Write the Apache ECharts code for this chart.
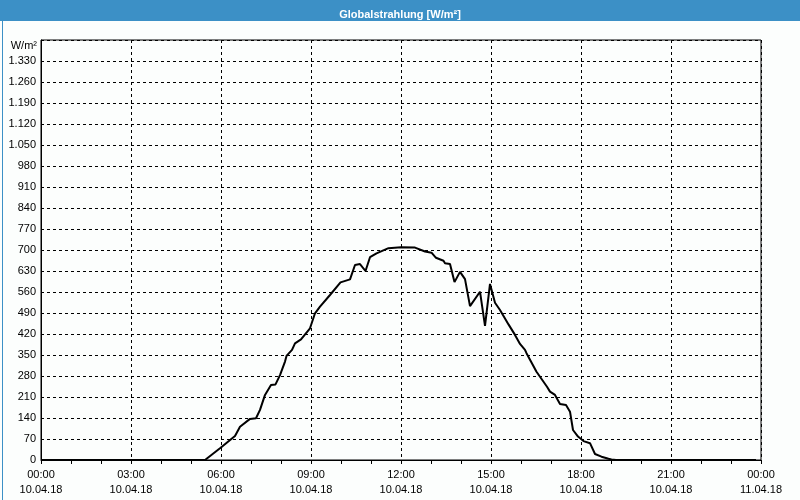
<!DOCTYPE html>
<html><head><meta charset="utf-8">
<script src="https://cdn.jsdelivr.net/npm/echarts@6/dist/echarts.min.js"></script>
<style>html,body{margin:0;padding:0;background:#fcfefd}#c{width:800px;height:500px}</style>
</head><body><div id="c"></div>
<script>
const titleText = 'Globalstrahlung [W/m²]';
const unitLabel = 'W/m²';
const xTickLabels = ['00:00\n10.04.18','03:00\n10.04.18','06:00\n10.04.18','09:00\n10.04.18','12:00\n10.04.18','15:00\n10.04.18','18:00\n10.04.18','21:00\n10.04.18','00:00\n11.04.18'];
const times = ['00:00','05:28','05:58','06:28','06:38','06:58','07:10','07:18','07:28','07:40','07:49','07:58','08:08','08:11','08:22','08:28','08:40','08:58','09:08','09:18','09:38','09:59','10:18','10:28','10:38','10:49','10:58','11:11','11:35','12:00','12:28','12:48','13:01','13:10','13:25','13:28','13:38','13:47','13:58','14:08','14:18','14:38','14:48','14:58','15:08','15:18','15:35','15:48','15:58','16:08','16:11','16:31','16:52','16:58','17:08','17:11','17:18','17:30','17:38','17:44','17:54','18:05','18:18','18:28','18:41','18:55','19:01','19:10','23:50'];
const values = [0,0,39,80,111,137,139,167,217,250,252,283,328,347,367,389,402,439,489,511,550,592,602,650,653,630,676,689,706,709,708,695,691,674,664,656,653,593,627,603,513,561,447,587,524,500,452,417,387,367,356,294,244,228,217,211,187,183,161,100,78,63,56,20,11,4,2,0,0];
const yMin = 0, yMax = 1400, yStep = 70;

function toHours(t){const p=t.split(':');return +p[0]+(+p[1])/60;}
const seriesData = times.map((t,i)=>[toHours(t), values[i]]);
function fmtY(v){ if(v>=yMax) return ''; if(v>=1000){return Math.floor(v/1000)+'.'+String(v%1000).padStart(3,'0');} return String(v); }

const font = "'Liberation Sans', Arial, sans-serif";
const chart = echarts.init(document.getElementById('c'), null, {renderer:'canvas'});
chart.setOption({
  animation:false,
  backgroundColor:'#fcfefd',
  graphic:[
    {type:'rect', left:0, top:0, shape:{width:800,height:21}, style:{fill:'#3c90c6'}, z:0},
    {type:'rect', left:0, top:0, shape:{width:799,height:499}, style:{fill:'none', stroke:'#3c90c6', lineWidth:1}, z:0},
    {type:'text', right:763, top:40, style:{text:unitLabel, fill:'#000', font:'11px '+font, textAlign:'right'}, z:5}
  ],
  title:{text:titleText, left:'center', top:4, textStyle:{color:'#fff', fontSize:11, fontWeight:'bold', fontFamily:font}},
  grid:{left:41, right:39, top:40, bottom:40, show:true, borderColor:'#000', borderWidth:1, backgroundColor:'transparent'},
  xAxis:{type:'value', min:0, max:24, interval:3,
    axisLine:{lineStyle:{color:'#000', width:1}},
    axisTick:{show:true, length:4, lineStyle:{color:'#000'}},
    minorTick:{show:true, splitNumber:3, length:4, lineStyle:{color:'#000'}},
    splitLine:{show:true, lineStyle:{color:'#000', type:[3,3], width:1}},
    axisLabel:{margin:7, color:'#000', fontSize:11, fontFamily:font, lineHeight:15, formatter:(v)=>xTickLabels[Math.round(v/3)], showMaxLabel:true, showMinLabel:true}
  },
  yAxis:{type:'value', min:yMin, max:yMax, interval:yStep,
    axisLine:{show:true, lineStyle:{color:'#000', width:1}},
    axisTick:{show:false},
    splitLine:{show:true, lineStyle:{color:'#000', type:[3,3], width:1}},
    axisLabel:{margin:5, color:'#000', fontSize:11, fontFamily:font, formatter:fmtY}
  },
  series:[{type:'line', data:seriesData, showSymbol:false, symbol:'none', lineStyle:{color:'#000', width:2}, itemStyle:{color:'#000'}}]
});
</script></body></html>
